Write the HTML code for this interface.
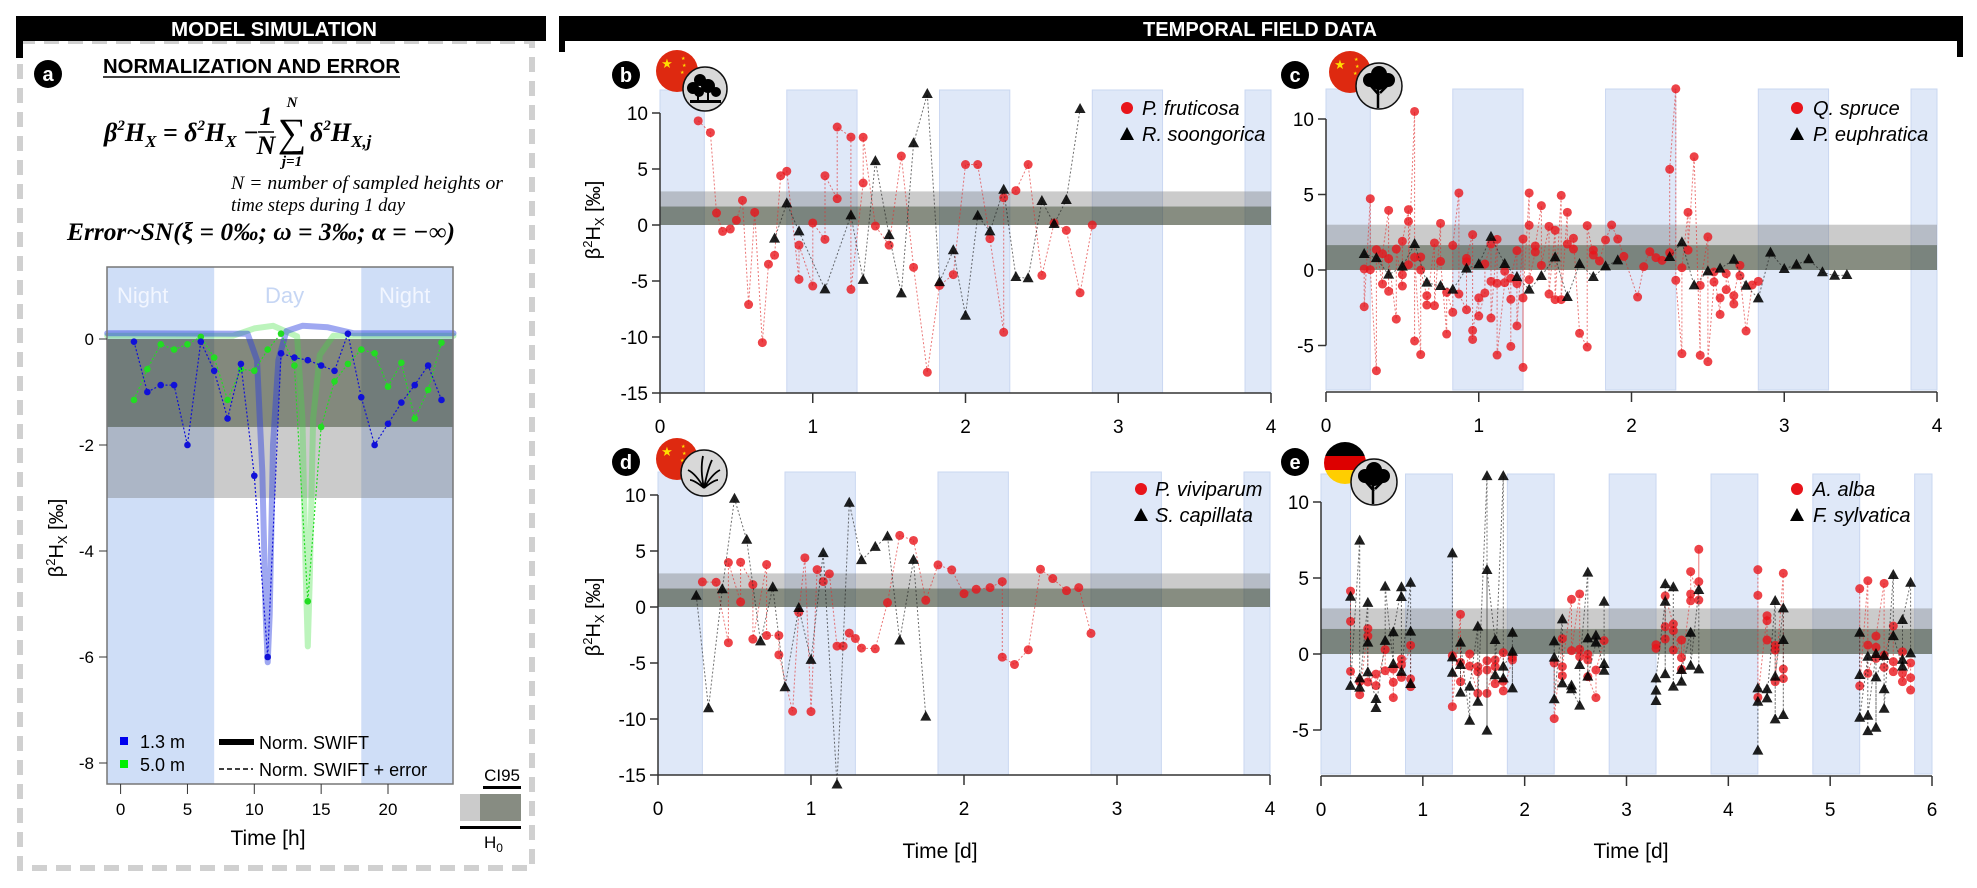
<!DOCTYPE html>
<html><head><meta charset="utf-8"><style>
html,body{margin:0;padding:0;background:#fff;width:1977px;height:888px;overflow:hidden}
svg{position:absolute;left:0;top:0}
text{font-family:"Liberation Sans",sans-serif}
.serif{font-family:"Liberation Serif",serif}
</style></head><body>
<svg id="fig" width="1977" height="888" viewBox="0 0 1977 888" xmlns="http://www.w3.org/2000/svg">
<defs>
<clipPath id="deClip"><circle cx="1345" cy="463" r="21"/></clipPath>
</defs>
<rect x="20" y="41" width="512" height="827" fill="none" stroke="#d0d0d0" stroke-width="6" stroke-dasharray="15,9"/>
<rect x="16" y="16" width="530" height="25" fill="#000"/>
<rect x="16" y="16" width="7" height="42" fill="#000"/>
<text x="274" y="36" text-anchor="middle" fill="#fff" font-weight="bold" font-size="20" textLength="206" lengthAdjust="spacingAndGlyphs">MODEL SIMULATION</text>
<rect x="559" y="16" width="1404" height="25" fill="#000"/>
<rect x="559" y="16" width="6" height="36" fill="#000"/>
<rect x="1957" y="16" width="6" height="41" fill="#000"/>
<text x="1260" y="36" text-anchor="middle" fill="#fff" font-weight="bold" font-size="20" textLength="234" lengthAdjust="spacingAndGlyphs">TEMPORAL FIELD DATA</text>

<circle cx="48" cy="74" r="14" fill="#000"/>
<text x="48" y="81" text-anchor="middle" fill="#fff" font-size="20" font-weight="bold">a</text>
<text x="103" y="73" font-size="20" font-weight="bold" textLength="297" lengthAdjust="spacingAndGlyphs">NORMALIZATION AND ERROR</text>
<line x1="103" y1="77" x2="400" y2="77" stroke="#000" stroke-width="1.5"/>

<g class="serif" font-weight="bold" font-style="italic" font-size="26">
<text class="serif" x="104" y="141">β<tspan font-size="15" dy="-11">2</tspan><tspan dy="11">H</tspan><tspan font-size="17" dy="6">X</tspan><tspan dy="-6"> = δ</tspan><tspan font-size="15" dy="-11">2</tspan><tspan dy="11">H</tspan><tspan font-size="17" dy="6">X</tspan><tspan dy="-6"> − </tspan></text>
<text class="serif" x="266" y="125" text-anchor="middle">1</text>
<line x1="258" y1="132" x2="274" y2="132" stroke="#000" stroke-width="1.5"/>
<text class="serif" x="266" y="154" text-anchor="middle">N</text>
<text class="serif" x="292" y="146" text-anchor="middle" font-size="40" font-style="normal" font-weight="normal">∑</text>
<text class="serif" x="292" y="107" text-anchor="middle" font-size="15">N</text>
<text class="serif" x="292" y="166" text-anchor="middle" font-size="15">j=1</text>
<text class="serif" x="310" y="141">δ<tspan font-size="15" dy="-11">2</tspan><tspan dy="11">H</tspan><tspan font-size="17" dy="6">X,j</tspan></text>
</g>
<text class="serif" x="231" y="189" font-size="19" font-style="italic" textLength="272" lengthAdjust="spacingAndGlyphs">N = number of sampled heights or</text>
<text class="serif" x="231" y="211" font-size="19" font-style="italic" textLength="174" lengthAdjust="spacingAndGlyphs">time steps during 1 day</text>
<text class="serif" x="67" y="240" font-size="25" font-weight="bold" font-style="italic" textLength="388" lengthAdjust="spacingAndGlyphs">Error~SN(ξ = 0‰; ω = 3‰; α = −∞)</text>

<g id="plots"></g>

<g><circle cx="677" cy="71" r="21" fill="#de2910"/><text x="667" y="68" font-size="13" fill="#ffde00" text-anchor="middle">★</text><text x="681" y="60" font-size="5" fill="#ffde00">★</text><text x="682" y="67" font-size="5" fill="#ffde00">★</text><text x="680" y="74" font-size="5" fill="#ffde00">★</text></g>
<g><circle cx="705" cy="89" r="22" fill="#d8d8d8" stroke="#111" stroke-width="1.5"/><circle cx="700" cy="80" r="6" fill="#000"/><circle cx="693" cy="88" r="6" fill="#000"/><circle cx="708" cy="86" r="7" fill="#000"/><circle cx="716" cy="92" r="5" fill="#000"/><circle cx="699" cy="92" r="5" fill="#000"/><rect x="690" y="100" width="31" height="3" fill="#000"/><rect x="697" y="90" width="2" height="10" fill="#000"/><rect x="707" y="90" width="2" height="10" fill="#000"/></g>
<g><circle cx="1350" cy="72" r="21" fill="#de2910"/><text x="1340" y="69" font-size="13" fill="#ffde00" text-anchor="middle">★</text><text x="1354" y="61" font-size="5" fill="#ffde00">★</text><text x="1355" y="68" font-size="5" fill="#ffde00">★</text><text x="1353" y="75" font-size="5" fill="#ffde00">★</text></g>
<g><circle cx="1379" cy="86" r="23" fill="#d8d8d8" stroke="#111" stroke-width="1.5"/><circle cx="1370" cy="80" r="7" fill="#000"/><circle cx="1388" cy="80" r="7" fill="#000"/><circle cx="1379" cy="74" r="8" fill="#000"/><circle cx="1379" cy="83" r="7" fill="#000"/><path d="M1378 108 L1378 86 M1379 95 L1371 86 M1380 93 L1388 85" stroke="#000" stroke-width="2.5" fill="none"/></g>
<g><circle cx="677" cy="459" r="21" fill="#de2910"/><text x="667" y="456" font-size="13" fill="#ffde00" text-anchor="middle">★</text><text x="681" y="448" font-size="5" fill="#ffde00">★</text><text x="682" y="455" font-size="5" fill="#ffde00">★</text><text x="680" y="462" font-size="5" fill="#ffde00">★</text></g>
<g><circle cx="704" cy="473" r="23" fill="#d8d8d8" stroke="#111" stroke-width="1.5"/><path d="M704 488 Q700 470 703 456 M704 488 Q696 474 688 470 M704 488 Q712 474 720 470 M704 488 Q708 468 712 460 M704 488 Q694 480 690 480 M704 488 Q714 480 718 480" stroke="#000" stroke-width="1.8" fill="none"/></g>
<g clip-path="url(#deClip)"><rect x="1320" y="440" width="52" height="16" fill="#000"/><rect x="1320" y="456" width="52" height="14" fill="#dd0000"/><rect x="1320" y="470" width="52" height="16" fill="#ffce00"/></g>
<g><circle cx="1374" cy="482" r="23" fill="#d8d8d8" stroke="#111" stroke-width="1.5"/><circle cx="1365" cy="476" r="7" fill="#000"/><circle cx="1383" cy="476" r="7" fill="#000"/><circle cx="1374" cy="470" r="8" fill="#000"/><circle cx="1374" cy="479" r="7" fill="#000"/><path d="M1373 504 L1373 482 M1374 491 L1366 482 M1375 489 L1383 481" stroke="#000" stroke-width="2.5" fill="none"/></g>
</svg>
<script>
const aHours=[1,2,3,4,5,6,7,8,9,10,11,12,13,14,15,16,17,18,19,20,21,22,23,24];
const aBlue=[-0.05,-1.0,-0.87,-0.87,-2.0,-0.05,-0.6,-1.5,-0.47,-2.58,-6.0,-0.27,-0.35,-0.4,-0.5,-0.6,0.1,-1.1,-2.0,-1.6,-1.2,-0.87,-0.5,-1.15];
const aGreen=[-1.15,-0.57,-0.1,-0.2,-0.1,0.04,-0.35,-1.15,-0.57,-0.6,-0.2,0.1,-0.5,-4.95,-1.66,-0.8,-0.47,-0.2,-0.27,-0.9,-0.45,-1.5,-0.96,-0.07];
const aBlueCurveH=[-1,9.5,10.2,10.6,10.85,11.0,11.15,11.4,11.8,12.4,13.6,15.5,17.4,18,24.9];
const aBlueCurveV=[0.11,0.1,-0.4,-2.5,-5.2,-6.1,-5.2,-2.0,-0.4,0.15,0.25,0.22,0.11,0.11,0.11];
const aGreenCurveH=[-1,8.4,10,11.4,13.2,13.6,13.85,14.0,14.15,14.4,14.9,15.9,24.9];
const aGreenCurveV=[0.06,0.06,0.2,0.25,0.05,-1.5,-4.5,-5.8,-4.5,-1.5,-0.3,0.06,0.06];
const aYTicks=[0,-2,-4,-6,-8];
const aXTicks=[0,5,10,15,20];
const aNight=[[-1,7],[18,24.9]];
const aCIdark=[-1.66,0];
const aCIlight=[-3,-1.66];

const ciDark=[0,1.65];
const ciLight=[1.65,3];
const night4S=[0,0.83,1.83,2.83,3.83];
const night4E=[0.29,1.29,2.29,3.29,4];
const night6S=[0,0.83,1.83,2.83,3.83,4.83,5.83];
const night6E=[0.29,1.29,2.29,3.29,4.29,5.29,6];
const ticksBD=[10,5,0,-5,-10,-15];
const ticksCE=[10,5,0,-5];
const xTicks4=[0,1,2,3,4];
const xTicks6=[0,1,2,3,4,5,6];

const bRedT=[0.25,0.33,0.37,0.41,0.46,0.5,0.54,0.58,0.62,0.67,0.71,0.75,0.79,0.83,0.91,0.91,1.0,1.0,1.08,1.08,1.16,1.16,1.25,1.25,1.33,1.33,1.41,1.5,1.58,1.66,1.75,1.83,1.92,2.0,2.08,2.16,2.25,2.25,2.33,2.41,2.5,2.58,2.66,2.75,2.83];
const bRedV=[9.3,8.25,1.07,-0.57,-0.36,0.42,2.2,-7.1,1.13,-10.5,-3.5,-2.7,4.4,4.8,-4.85,-1.8,-5.45,0.18,-1.28,4.4,2.35,8.75,7.85,-5.75,3.75,7.83,-0.09,-1.8,6.16,-3.78,-13.15,-5.4,-4.43,5.4,5.4,-1.22,-9.58,2.44,3.07,5.4,-4.5,0.18,-0.48,-6.05,0.0];
const bBlkT=[0.75,0.83,0.91,1.08,1.25,1.33,1.41,1.5,1.58,1.66,1.75,1.83,1.92,2.0,2.08,2.16,2.25,2.33,2.41,2.5,2.58,2.66,2.75];
const bBlkV=[-1.22,1.93,-0.57,-5.75,0.86,-4.9,5.7,-0.9,-6.1,7.3,11.7,-5.1,-2.26,-8.1,0.83,-0.57,3.15,-4.64,-4.76,2.14,0.09,2.23,10.36];

const cRedT=[0.25,0.25,0.29,0.29,0.33,0.33,0.37,0.37,0.41,0.41,0.41,0.46,0.46,0.5,0.5,0.5,0.54,0.54,0.54,0.58,0.58,0.58,0.62,0.62,0.62,0.66,0.66,0.71,0.71,0.75,0.75,0.79,0.79,0.83,0.83,0.87,0.87,0.92,0.92,0.92,0.96,0.96,0.96,1.0,1.0,1.04,1.04,1.08,1.08,1.08,1.12,1.12,1.12,1.17,1.17,1.21,1.21,1.21,1.25,1.25,1.25,1.29,1.29,1.29,1.33,1.33,1.33,1.37,1.37,1.41,1.41,1.46,1.46,1.5,1.5,1.54,1.54,1.58,1.58,1.62,1.62,1.66,1.71,1.71,1.75,1.75,1.79,1.83,1.87,1.91,1.95,2.04,2.08,2.12,2.16,2.2,2.25,2.25,2.29,2.29,2.33,2.33,2.37,2.37,2.41,2.45,2.45,2.5,2.5,2.54,2.54,2.58,2.58,2.62,2.62,2.67,2.67,2.71,2.71,2.75,2.79,2.83];
const cRedV=[0.07,-2.43,4.72,0.02,-6.67,1.35,-0.93,1.08,3.95,-1.41,0.75,-3.25,1.39,-1.06,-0.31,1.9,4.0,3.22,0.35,10.5,-4.7,0.84,-5.6,0.86,0,-1.7,-2.32,1.79,-2.36,3.09,0.57,-4.24,-1.48,-2.8,1.63,5.1,-1.59,-2.63,0.55,0.77,2.34,-4.6,-4.0,-1.85,-3.05,-1.52,0.4,1.72,-0.75,-3.18,2.03,-0.88,-5.63,-0.84,-0.09,-1.94,-5.06,-0.55,1.28,-0.9,-3.7,2.05,-6.45,-1.85,5.1,2.96,-0.64,1.19,1.59,4.26,0.31,2.89,-1.59,2.63,-1.96,4.94,-1.96,3.82,1.72,1.39,2.1,-4.19,-5.1,2.94,0.99,1.32,0.6,1.99,2.98,2.05,0.9,-1.79,0.22,1.21,0.82,0.64,1.15,6.67,12.0,-0.68,-5.54,0.15,3.82,1.32,7.5,-5.65,-1.02,2.19,-6.07,-0.79,-0.13,-2.94,-1.85,-1.3,-0.24,-2.25,-1.7,0.31,-0.38,-4.04,-0.99,-0.75];
const cBlkT=[0.25,0.33,0.41,0.5,0.58,0.66,0.75,0.83,0.92,1.0,1.08,1.17,1.25,1.33,1.41,1.5,1.58,1.66,1.75,1.83,1.91,2.25,2.33,2.41,2.5,2.58,2.67,2.75,2.83,2.91,3.0,3.08,3.16,3.25,3.33,3.41];
const cBlkV=[1.06,0.79,-0.31,0.22,1.72,-0.84,-1.06,-1.3,0.09,0.38,2.19,0.4,-0.46,-1.3,-0.4,0.84,-1.79,0.4,-0.46,0.24,0.64,0.86,1.83,-1.02,-0.09,0.09,0.68,-1.04,-1.88,1.15,0.07,0.35,0.71,-0.15,-0.38,-0.33];

const dRedT=[0.29,0.38,0.46,0.46,0.54,0.54,0.62,0.62,0.71,0.71,0.79,0.79,0.88,0.92,0.96,1.0,1.04,1.08,1.12,1.17,1.21,1.25,1.29,1.33,1.42,1.5,1.58,1.67,1.75,1.83,1.92,2.0,2.08,2.17,2.25,2.25,2.33,2.42,2.5,2.58,2.67,2.75,2.83];
const dRedV=[2.24,2.21,-3.19,3.97,0.45,4.0,2.0,-2.87,3.79,-2.54,-2.54,-4.27,-9.31,-0.48,4.39,-9.34,3.34,2.27,2.96,-3.49,-3.49,-2.33,-2.81,-3.67,-3.73,0.39,6.39,5.94,0.6,3.76,3.31,1.19,1.58,1.73,2.27,-4.48,-5.13,-3.82,3.37,2.54,1.46,1.73,-2.36];
const dBlkT=[0.25,0.33,0.42,0.5,0.58,0.67,0.75,0.83,0.92,1.0,1.08,1.17,1.25,1.33,1.42,1.5,1.58,1.67,1.75];
const dBlkV=[1.01,-9.04,1.58,9.67,6.0,-3.07,1.76,-7.16,-0.09,-4.72,4.81,-15.85,9.31,4.18,5.37,6.3,-2.99,4.21,-9.79];

const eRedT=[0.29,0.29,0.29,0.38,0.38,0.46,0.46,0.46,0.54,0.54,0.63,0.63,0.71,0.71,0.71,0.79,0.79,0.79,0.88,0.88,0.88,1.29,1.29,1.37,1.37,1.37,1.46,1.46,1.54,1.54,1.54,1.63,1.63,1.63,1.71,1.71,1.71,1.79,1.79,1.79,1.88,1.88,2.29,2.29,2.37,2.37,2.37,2.46,2.46,2.54,2.54,2.54,2.62,2.62,2.62,2.7,2.7,2.78,3.29,3.29,3.38,3.38,3.38,3.46,3.46,3.46,3.54,3.54,3.54,3.63,3.63,3.63,3.71,3.71,3.71,4.29,4.29,4.29,4.38,4.38,4.38,4.46,4.46,4.46,4.54,4.54,4.54,5.29,5.29,5.37,5.37,5.37,5.45,5.45,5.45,5.53,5.53,5.53,5.62,5.62,5.62,5.71,5.71,5.71,5.79,5.79,5.79];
const eRedV=[4.14,2.15,-1.14,-1.82,-2.68,1.67,1.18,-1.84,-1.32,-2.08,0.29,-1.1,-1.86,-2.87,-0.99,-0.33,-0.72,-1.54,0.57,-2.15,-1.64,-0.11,-3.46,2.61,-0.55,-1.82,0,-0.79,-2.59,-0.83,-1.16,-0.44,-1.05,-2.59,-0.39,-1.95,-0.83,0.09,-1.8,-2.43,-0.39,-0.22,-0.59,-4.25,1.01,-1.43,-0.83,3.6,0.22,3.95,0.31,-0.18,-0.02,-0.39,-1.49,-2.87,-1.05,0.88,0.61,0.37,0.99,1.8,3.82,1.97,0.26,1.54,-0.24,0.92,-1.01,3.95,3.5,5.42,3.55,6.89,4.76,5.55,3.86,-2.85,2.52,2.19,0.92,0.57,0.26,-1.82,5.31,-0.99,-1.62,4.3,-2.1,4.82,0.59,-1.27,0.44,-0.29,1.18,4.65,-0.88,-0.07,1.84,-0.5,-1.16,0.15,-1.27,-1.82,-0.59,-1.56,-2.37];
const eBlkT=[0.29,0.29,0.38,0.38,0.38,0.46,0.46,0.46,0.54,0.54,0.63,0.63,0.71,0.71,0.79,0.79,0.79,0.88,0.88,0.88,1.29,1.29,1.29,1.37,1.37,1.37,1.46,1.46,1.54,1.54,1.63,1.63,1.63,1.71,1.71,1.79,1.79,1.79,1.88,1.88,1.88,2.29,2.29,2.29,2.37,2.37,2.46,2.46,2.54,2.54,2.62,2.62,2.62,2.7,2.7,2.78,2.78,2.78,3.29,3.29,3.29,3.38,3.38,3.38,3.46,3.46,3.54,3.54,3.63,3.63,3.71,3.71,4.29,4.29,4.29,4.38,4.38,4.46,4.46,4.46,4.54,4.54,4.54,5.29,5.29,5.29,5.37,5.37,5.37,5.45,5.45,5.45,5.53,5.53,5.53,5.62,5.62,5.71,5.71,5.71,5.79,5.79];
const eBlkV=[3.77,-2.1,7.46,-1.6,-2.21,3.36,0.75,-1.2,-2.96,-3.55,0.86,4.43,-0.66,1.43,4.39,3.75,-1.18,4.69,1.47,-1.97,6.62,-1.23,-0.22,-0.72,-2.54,0.75,-4.39,-2.15,1.8,-3.14,11.7,-5.04,5.53,0.92,-1.4,11.7,-1.6,-0.83,0.15,-2.26,1.4,0.83,-0.24,-2.98,2.28,-1.93,-2.08,-2.32,-3.4,-0.72,5.35,1.03,-1.49,0.75,1.21,-1.1,-0.66,3.44,-2.41,-3.09,-1.6,3.44,-1.32,4.6,4.39,-2.15,-1.82,-1.05,1.4,-0.77,4.21,-1.01,-6.36,-3.14,-2.26,-2.32,-2.92,3.49,-4.3,-1.49,3.0,-4.01,0.92,1.4,-1.38,-4.19,-0.18,-5.07,-4.06,0,-4.85,-1.54,-0.13,-2.32,-3.6,5.2,1.18,-0.83,-0.39,2.24,4.69,0.04];

const NS='http://www.w3.org/2000/svg';
const root=document.getElementById('plots');
function mk(tag,attrs,parent){const e=document.createElementNS(NS,tag);for(const k in attrs)e.setAttribute(k,attrs[k]);(parent||root).appendChild(e);return e;}

(function(){
  const g=mk('g',{});
  
  
  const L=107,R=453,T=267,B=784;
  const sx=h=>120.6+13.37*h, sy=v=>339-53*v;
  aNight.forEach(n=>{
    const r=mk('rect',{x:Math.max(L,sx(n[0])),y:T,width:Math.min(R,sx(n[1]))-Math.max(L,sx(n[0])),height:B-T,fill:'#cfdef7'},g);
    
    
  });
  const rl=mk('rect',{x:L,y:sy(aCIlight[1]),width:R-L,height:sy(aCIlight[0])-sy(aCIlight[1]),fill:'rgba(110,110,110,0.36)'},g);
  
  
  const rd=mk('rect',{x:L,y:sy(aCIdark[1]),width:R-L,height:sy(aCIdark[0])-sy(aCIdark[1]),fill:'rgba(55,65,45,0.62)'},g);
  
  
  const labs=[['Night',117,'#f2f6ff'],['Day',265,'#c6d6f4'],['Night',379,'#f2f6ff']];
  labs.forEach(l=>{const t=mk('text',{x:l[1],y:303,'font-size':22,fill:l[2]},g);t.textContent=l[0];
    
    });
  function curve(H,V,col,nm,op){
    let d='';H.forEach((h,i)=>{d+=(i?'L':'M')+sx(h).toFixed(1)+','+sy(V[i]).toFixed(1);});
    const p=mk('path',{d:d,fill:'none',stroke:col,'stroke-width':6,'stroke-linejoin':'round','stroke-linecap':'round',opacity:op},g);
    
    
  }
  curve(aGreenCurveH,aGreenCurveV,'#40e040','norm-swift-5m',0.35);
  curve(aBlueCurveH,aBlueCurveV,'#2a3ee0','norm-swift-1-3m',0.45);
  function pts(V,col,nm){
    let d='';aHours.forEach((h,i)=>{d+=(i?'L':'M')+sx(h).toFixed(1)+','+sy(V[i]).toFixed(1);});
    const p=mk('path',{d:d,fill:'none',stroke:col,'stroke-width':1.2,'stroke-dasharray':'2,2'},g);
    
    
    aHours.forEach((h,i)=>{const c=mk('circle',{cx:sx(h),cy:sy(V[i]),r:3.3,fill:col},g);
      
      });
  }
  pts(aGreen,'#22dd22','error-5m');
  pts(aBlue,'#1010d8','error-1-3m');
  const bx=mk('rect',{x:L,y:T,width:R-L,height:B-T,fill:'none',stroke:'#777','stroke-width':1.5},g);
  
  
  aYTicks.forEach(v=>{mk('line',{x1:99,x2:L,y1:sy(v),y2:sy(v),stroke:'#333'},g);
    const t=mk('text',{x:94,y:sy(v)+6,'text-anchor':'end','font-size':17},g);t.textContent=String(v);
    
    });
  aXTicks.forEach(v=>{mk('line',{x1:sx(v),x2:sx(v),y1:B,y2:B+10,stroke:'#333'},g);
    const t=mk('text',{x:sx(v),y:B+31,'text-anchor':'middle','font-size':17},g);t.textContent=String(v);
    
    });
})();

function panel(nm,geo,nS,nE,yT,xT,rT,rV,kT,kV){
  const g=mk('g',{});
  
  
  const sx=d=>geo.xl+d*(geo.xr-geo.xl)/geo.dmax, sy=v=>geo.y0-v*geo.k;
  nS.forEach((s,i)=>{const r=mk('rect',{x:sx(s),y:geo.top,width:sx(nE[i])-sx(s),height:geo.bot-geo.top,fill:'#dfe8f8',stroke:'#cad7f1','stroke-width':1},g);
    
    });
  const rl=mk('rect',{x:geo.xl,y:sy(ciLight[1]),width:geo.xr-geo.xl,height:sy(ciLight[0])-sy(ciLight[1]),fill:'rgba(110,110,110,0.36)'},g);
  
  
  const rd=mk('rect',{x:geo.xl,y:sy(ciDark[1]),width:geo.xr-geo.xl,height:sy(ciDark[0])-sy(ciDark[1]),fill:'rgba(55,65,45,0.6)'},g);
  
  
  function series(T,V,col,tri,sn){
    let d='';T.forEach((t,i)=>{const brk=(i===0)||(t-T[i-1]>0.2);d+=(brk?'M':'L')+sx(t).toFixed(1)+','+sy(V[i]).toFixed(1);});
    const p=mk('path',{d:d,fill:'none',stroke:col,'stroke-width':1,'stroke-dasharray':'2,2',opacity:0.65},g);
    
    
    T.forEach((t,i)=>{const x=sx(t),y=sy(V[i]);let m;
      if(tri){m=mk('path',{d:`M${x},${y-6}L${x+5.5},${y+4}L${x-5.5},${y+4}Z`,fill:'#000',opacity:0.88},g);}
      else{m=mk('circle',{cx:x,cy:y,r:4.5,fill:'#e8141a',opacity:0.8},g);}
      
      });
  }
  series(rT,rV,'#e03030',false,'red-species');
  series(kT,kV,'#222',true,'black-species');
  const ya=mk('line',{x1:geo.xl,x2:geo.xl,y1:sy(yT[0]),y2:sy(yT[yT.length-1]),stroke:'#333','stroke-width':1.5},g);
  
  
  yT.forEach(v=>{mk('line',{x1:geo.xl-8,x2:geo.xl,y1:sy(v),y2:sy(v),stroke:'#333','stroke-width':1.5},g);
    const t=mk('text',{x:geo.xl-12,y:sy(v)+7,'text-anchor':'end','font-size':19},g);t.textContent=String(v);
    
    });
  const xa=mk('line',{x1:geo.xl,x2:geo.xr,y1:geo.axis,y2:geo.axis,stroke:'#333','stroke-width':1.5},g);
  
  
  xT.forEach(v=>{mk('line',{x1:sx(v),x2:sx(v),y1:geo.axis,y2:geo.axis+10,stroke:'#333','stroke-width':1.5},g);
    const t=mk('text',{x:sx(v),y:geo.axis+40,'text-anchor':'middle','font-size':19},g);t.textContent=String(v);
    
    });
}
panel('panel-b-plot',{xl:660,xr:1271,dmax:4,y0:225,k:11.2,top:90,bot:393,axis:393},night4S,night4E,ticksBD,xTicks4,bRedT,bRedV,bBlkT,bBlkV);
panel('panel-c-plot',{xl:1326,xr:1937,dmax:4,y0:270,k:15.1,top:89,bot:390,axis:392},night4S,night4E,ticksCE,xTicks4,cRedT,cRedV,cBlkT,cBlkV);
panel('panel-d-plot',{xl:658,xr:1270,dmax:4,y0:607,k:11.2,top:472,bot:775,axis:775},night4S,night4E,ticksBD,xTicks4,dRedT,dRedV,dBlkT,dBlkV);
panel('panel-e-plot',{xl:1321,xr:1932,dmax:6,y0:654,k:15.2,top:474,bot:774,axis:776},night6S,night6E,ticksCE,xTicks6,eRedT,eRedV,eBlkT,eBlkV);
</script>
<svg width="1977" height="888" viewBox="0 0 1977 888" xmlns="http://www.w3.org/2000/svg" style="pointer-events:none">
<rect x="120" y="737" width="8" height="8" fill="#0000ee"/>
<text x="140" y="748" font-size="18">1.3 m</text>
<rect x="120" y="760" width="8" height="8" fill="#00ee00"/>
<text x="140" y="771" font-size="18">5.0 m</text>
<rect x="219" y="739" width="35" height="6" fill="#000"/>
<text x="259" y="749" font-size="18">Norm. SWIFT</text>
<line x1="219" y1="769" x2="253" y2="769" stroke="#000" stroke-width="1.5" stroke-dasharray="5,3"/>
<text x="259" y="776" font-size="18">Norm. SWIFT + error</text>
<text x="520" y="781" text-anchor="end" font-size="17">CI95</text>
<rect x="483" y="786" width="38" height="3" fill="#000"/>
<rect x="460" y="794" width="21" height="27" fill="#cbcbcb"/>
<rect x="480" y="794" width="41" height="27" fill="#878c82"/>
<rect x="460" y="826" width="61" height="3" fill="#000"/>
<text x="484" y="848" font-size="17">H<tspan font-size="12" dy="4">0</tspan></text>
<text transform="translate(63,538) rotate(-90)" text-anchor="middle" font-size="20">β<tspan font-size="13" dy="-8">2</tspan><tspan dy="8">H</tspan><tspan font-size="13" dy="4">X</tspan><tspan dy="-4"> [‰]</tspan></text>
<text x="268" y="845" text-anchor="middle" font-size="21">Time [h]</text>
<text transform="translate(600,220) rotate(-90)" text-anchor="middle" font-size="20">β<tspan font-size="13" dy="-8">2</tspan><tspan dy="8">H</tspan><tspan font-size="13" dy="4">X</tspan><tspan dy="-4"> [‰]</tspan></text>
<text transform="translate(600,617) rotate(-90)" text-anchor="middle" font-size="20">β<tspan font-size="13" dy="-8">2</tspan><tspan dy="8">H</tspan><tspan font-size="13" dy="4">X</tspan><tspan dy="-4"> [‰]</tspan></text>
<text x="940" y="858" text-anchor="middle" font-size="21">Time [d]</text>
<text x="1631" y="858" text-anchor="middle" font-size="21">Time [d]</text>
<circle cx="626" cy="75" r="14" fill="#000"/><text x="626" y="82" text-anchor="middle" fill="#fff" font-size="20" font-weight="bold">b</text>
<circle cx="1295" cy="75" r="14" fill="#000"/><text x="1295" y="82" text-anchor="middle" fill="#fff" font-size="20" font-weight="bold">c</text>
<circle cx="626" cy="462" r="14" fill="#000"/><text x="626" y="469" text-anchor="middle" fill="#fff" font-size="20" font-weight="bold">d</text>
<circle cx="1295" cy="462" r="14" fill="#000"/><text x="1295" y="469" text-anchor="middle" fill="#fff" font-size="20" font-weight="bold">e</text>
<g font-size="20" font-style="italic">
<circle cx="1127" cy="108" r="6" fill="#e8141a"/><text x="1142" y="115">P. fruticosa</text>
<path d="M1127,127L1134,140L1120,140Z" fill="#000"/><text x="1142" y="141">R. soongorica</text></g>
<g font-size="20" font-style="italic">
<circle cx="1797" cy="108" r="6" fill="#e8141a"/><text x="1813" y="115">Q. spruce</text>
<path d="M1797,127L1804,140L1790,140Z" fill="#000"/><text x="1813" y="141">P. euphratica</text></g>
<g font-size="20" font-style="italic">
<circle cx="1141" cy="489" r="6" fill="#e8141a"/><text x="1155" y="496">P. viviparum</text>
<path d="M1141,508L1148,521L1134,521Z" fill="#000"/><text x="1155" y="522">S. capillata</text></g>
<g font-size="20" font-style="italic">
<circle cx="1797" cy="489" r="6" fill="#e8141a"/><text x="1813" y="496">A. alba</text>
<path d="M1797,508L1804,521L1790,521Z" fill="#000"/><text x="1813" y="522">F. sylvatica</text></g>
</svg>
</body></html>
